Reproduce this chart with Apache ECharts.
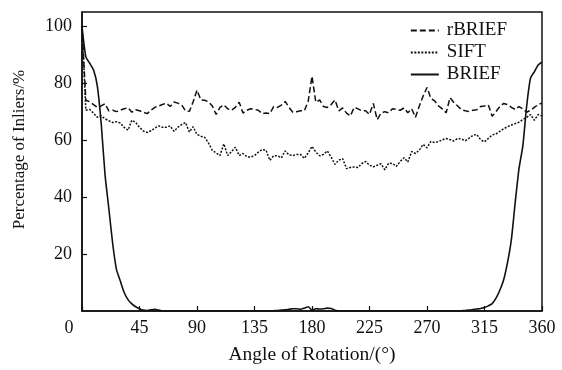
<!DOCTYPE html>
<html>
<head>
<meta charset="utf-8">
<script src="https://cdn.jsdelivr.net/npm/echarts@6/dist/echarts.min.js"></script>
<style>
  html, body { margin: 0; padding: 0; background: #fff; }
  #chart { width: 562px; height: 370px; }
</style>
</head>
<body>
<div id="chart"></div>
<script>
// angle of rotation, 0..360 every 3 degrees
var angles = [];
for (var a = 0; a <= 360; a += 3) angles.push(a);

var rbrief = [
  100, 74, 73.5, 72.5, 71.5, 72, 72.8, 70.3, 70.5, 70,
  70.5, 71, 71.4, 69.8, 70.7, 70.3, 69.8, 69.3, 70.5, 71.5,
  72, 72.5, 73, 71.8, 73.4, 73, 72.4, 70.3, 70.1, 73.5,
  77.6, 74.1, 74, 73.5, 72, 69, 71.5, 72.4, 71, 70.5,
  71.5, 73.3, 69.5, 70.5, 71, 70.8, 70.5, 69.3, 69.5, 69.3,
  71.8, 71.5, 72.3, 73.6, 71.5, 69.8, 70, 70.3, 70.3, 73.6,
  82.4, 73.3, 74.1, 71.8, 71.5, 72.5, 74.1, 70.3, 71.3, 69.5,
  68.5, 71.5, 71, 70.3, 70.3, 69, 72.9, 67.2, 69.5, 70,
  69.6, 71, 70.8, 70.5, 71.3, 69.6, 71, 68, 72, 75.5,
  78.5, 74.7, 73.8, 72, 71, 69.6, 74.9, 73.2, 72, 70.7,
  70.3, 70, 70.5, 70.7, 71.8, 72, 72.4, 68.4, 70, 71.8,
  72.9, 72.5, 71.5, 70.8, 71.8, 71, 69.8, 70.5, 71.5, 72.5,
  73
];
var sift = [
  100, 70.5, 70.8, 69.5, 68, 68.5, 67.5, 66.8, 66.2, 66.5,
  66, 64.5, 63.5, 67, 66.2, 64.5, 63.2, 62.7, 63.3, 64.2,
  65, 64.5, 64.5, 65, 63.1, 64.5, 65.5, 66.2, 62.9, 64.7,
  62, 61.4, 61, 59, 56.4, 55.5, 54.6, 58.7, 54.6, 56,
  57.5, 54.6, 55.3, 54.2, 54, 54.6, 55.8, 56.7, 56.5, 52.9,
  54.5, 54.5, 53.8, 56.2, 54.8, 54.6, 55, 55, 53.6, 55.5,
  57.8, 55.8, 54.5, 55, 56.2, 54, 51.5, 53, 53.5, 50,
  50.4, 50.6, 50.4, 51.8, 52.5, 51.2, 50.6, 51.2, 51.7, 49.6,
  51.9, 51.8, 50.8, 52.5, 53.8, 52.3, 56, 55.3, 56.5, 58.5,
  57.3, 59.5, 59.2, 59.5, 60.1, 60.6, 60.2, 59.7, 60.6, 60.4,
  59.8, 60.7, 61.7, 62, 60.1, 59.4, 60.6, 61.8, 62.2, 63.1,
  64, 64.7, 65.3, 65.8, 66.3, 67.2, 68, 69, 67, 69,
  68.5
];
var brief = [
  100, 89.3, 87, 84.7, 79, 66, 48, 36, 23.7, 14.5,
  10.5, 6.5, 4, 2.5, 1.5, 0.8, 0.3, 0.2, 0.4, 0.6,
  0.3, 0, 0, 0, 0, 0, 0, 0, 0, 0,
  0, 0, 0, 0, 0, 0, 0, 0, 0, 0,
  0, 0, 0, 0, 0, 0, 0, 0, 0, 0,
  0.1, 0.2, 0.3, 0.4, 0.6, 0.8, 0.8, 0.6, 1, 1.5,
  0.3, 0.8, 0.7, 0.8, 1, 0.9, 0.3, 0, 0, 0,
  0, 0, 0, 0, 0, 0, 0, 0, 0, 0,
  0, 0, 0, 0, 0, 0, 0, 0, 0, 0,
  0, 0, 0, 0, 0, 0, 0, 0, 0, 0.1,
  0.2, 0.3, 0.5, 0.7, 0.9, 1.2, 1.8, 2.6, 4.5, 7.3,
  11, 17, 25, 38, 50, 58, 72, 81.8, 84, 86.4,
  87.5
];

var xTicks = [0, 45, 90, 135, 180, 225, 270, 315, 360];
var yTicks = [20, 40, 60, 80, 100];

function pairs(vals) {
  return angles.map(function (a, i) { return [a, vals[i]]; });
}

var font = '"Liberation Serif", "DejaVu Serif", serif';
var ink = '#111';

var chart = echarts.init(document.getElementById('chart'), null, { renderer: 'canvas' });

var option = {
  backgroundColor: '#fff',
  animation: false,
  grid: {
    left: 82, right: 20, top: 12, bottom: 56,
    show: true, borderColor: ink, borderWidth: 1.5, backgroundColor: 'transparent'
  },
  legend: {
    show: true,
    orient: 'vertical',
    right: 50,
    top: 16,
    itemWidth: 28,
    itemHeight: 14,
    itemGap: 3,
    itemStyle: { opacity: 0 },   // hide the little circle, keep the line
    textStyle: { fontFamily: font, fontSize: 19, color: ink, padding: [0, 0, 0, 3] },
    data: [
      { name: 'rBRIEF' },
      { name: 'SIFT' },
      { name: 'BRIEF' }
    ]
  },
  xAxis: {
    type: 'value',
    min: 0, max: 360, interval: 45,
    name: 'Angle of Rotation/(°)',
    nameLocation: 'middle',
    nameGap: 34,
    nameTextStyle: { fontFamily: font, fontSize: 19.5, color: ink },
    axisLine: { show: true, lineStyle: { color: ink, width: 1.5 } },
    axisTick: { show: true, inside: true, length: 5, lineStyle: { color: ink, width: 1.2 } },
    axisLabel: {
      fontFamily: font, fontSize: 18, color: ink, margin: 8,
      formatter: function (v) {
        if (xTicks.indexOf(v) < 0) return '';
        return v === 0 ? '{z|0}' : String(v);
      },
      rich: { z: { fontFamily: font, fontSize: 18, color: ink, padding: [0, 26, 0, 0] } }
    },
    splitLine: { show: false }
  },
  yAxis: {
    type: 'value',
    min: 0, max: 105, interval: 20,
    name: 'Percentage of Inliers/%',
    nameLocation: 'middle',
    nameGap: 54,
    nameTextStyle: { fontFamily: font, fontSize: 17, color: ink, padding: [0, 0, 0, 24] },
    axisLine: { show: true, lineStyle: { color: ink, width: 1.5 } },
    axisTick: { show: true, inside: true, length: 5, lineStyle: { color: ink, width: 1.2 } },
    axisLabel: {
      fontFamily: font, fontSize: 18, color: ink, margin: 10,
      showMinLabel: false, showMaxLabel: false,
      formatter: function (v) { return yTicks.indexOf(v) < 0 ? '' : String(v); }
    },
    splitLine: { show: false }
  },
  series: [
    {
      name: 'rBRIEF', type: 'line', data: pairs(rbrief),
      showSymbol: false, symbol: 'none',
      lineStyle: { color: ink, width: 1.5, type: [6, 3] },
      itemStyle: { color: ink }
    },
    {
      name: 'SIFT', type: 'line', data: pairs(sift),
      showSymbol: false, symbol: 'none',
      lineStyle: { color: ink, width: 1.5, type: [2, 1.5] },
      itemStyle: { color: ink }
    },
    {
      name: 'BRIEF', type: 'line', data: pairs(brief),
      showSymbol: false, symbol: 'none', smooth: 0.2,
      lineStyle: { color: ink, width: 1.6, type: 'solid' },
      itemStyle: { color: ink }
    }
  ]
};

chart.setOption(option);
</script>
</body>
</html>
